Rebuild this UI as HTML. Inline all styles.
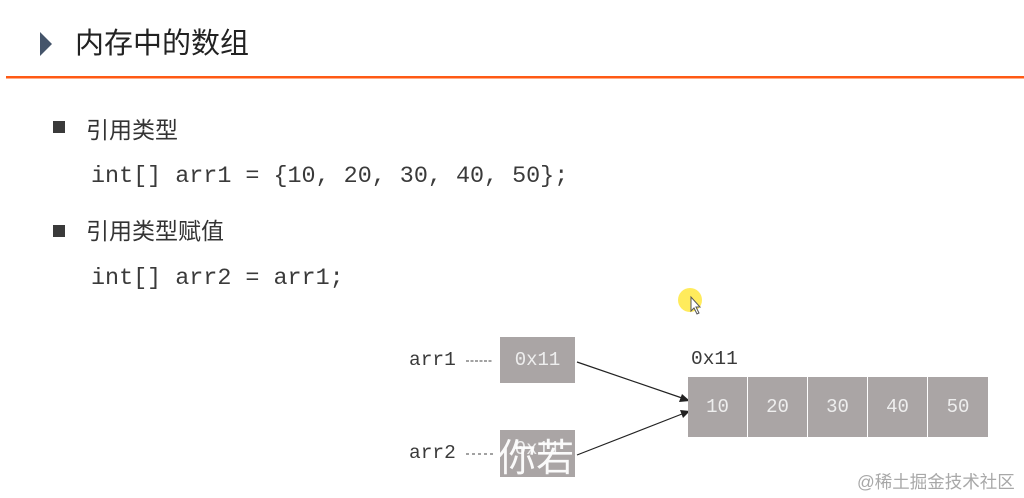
<!DOCTYPE html>
<html><head><meta charset="utf-8"><style>
body{margin:0;width:1024px;height:498px;background:#fff;position:relative;overflow:hidden;font-family:"Liberation Sans","Noto Sans CJK SC",sans-serif}
.a{position:absolute;white-space:nowrap}
.cn{font-family:"Liberation Sans","Noto Sans CJK SC",sans-serif;color:#333}
.mono{font-family:"Liberation Mono",monospace;color:#3a3a3a}
.box{position:absolute;background:#aaa5a5;color:#eee;font-family:"Liberation Mono",monospace;font-size:19px;display:flex;align-items:center;justify-content:center}
.sq{position:absolute;width:12px;height:12px;background:#3a3a3a}
</style></head><body>
<svg class="a" style="left:0;top:0" width="1024" height="498">
<polygon points="40,32 52,44 40,56" fill="#44546a"/>
<rect x="6" y="76" width="1018" height="2.5" fill="#ff5a14"/>
<circle cx="690" cy="300" r="12" fill="#ffe94a" opacity="0.9"/>
<polygon points="691,297 691,311 694,308 697,314 699,313 696,307 700,307" fill="#fff" stroke="#555" stroke-width="1"/>
<line x1="466" y1="361" x2="492" y2="361" stroke="#444" stroke-dasharray="3,1.5"/>
<line x1="466" y1="454" x2="495" y2="454" stroke="#444" stroke-dasharray="3,3"/>
<line x1="577" y1="362" x2="682" y2="398" stroke="#222" stroke-width="1.2"/>
<polygon points="690,401 679,402 682,394" fill="#222"/>
<line x1="577" y1="455" x2="682" y2="414" stroke="#222" stroke-width="1.2"/>
<polygon points="690,411 683,418 680,410" fill="#222"/>
</svg>
<div class="a cn" style="left:75px;top:25px;font-size:29px;line-height:38px;color:#222">内存中的数组</div>
<div class="sq" style="left:53px;top:121px"></div>
<div class="a cn" style="left:86px;top:115px;font-size:23px;line-height:30px">引用类型</div>
<div class="a mono" style="left:91px;top:163px;font-size:23.4px;line-height:28px">int[] arr1 = {10, 20, 30, 40, 50};</div>
<div class="sq" style="left:53px;top:225px"></div>
<div class="a cn" style="left:86px;top:216px;font-size:23px;line-height:30px">引用类型赋值</div>
<div class="a mono" style="left:91px;top:265px;font-size:23.4px;line-height:28px">int[] arr2 = arr1;</div>
<div class="a mono" style="left:409px;top:348px;font-size:19.5px;line-height:24px">arr1</div>
<div class="a mono" style="left:409px;top:441px;font-size:19.5px;line-height:24px">arr2</div>
<div class="box" style="left:500px;top:337px;width:75px;height:46px">0x11</div>
<div class="box" style="left:500px;top:430px;width:75px;height:47px;align-items:flex-start;padding-top:8px;box-sizing:border-box">0x11</div>
<div class="a mono" style="left:691px;top:347px;font-size:19.5px;line-height:24px">0x11</div>
<div class="box" style="left:688px;top:377px;width:59px;height:60px">10</div>
<div class="box" style="left:748px;top:377px;width:59px;height:60px">20</div>
<div class="box" style="left:808px;top:377px;width:59px;height:60px">30</div>
<div class="box" style="left:868px;top:377px;width:59px;height:60px">40</div>
<div class="box" style="left:928px;top:377px;width:60px;height:60px">50</div>
<div class="a" style="left:400px;top:462px;width:100px;height:16px;background:#fff;opacity:0.85"></div>
<div class="a cn" style="left:498px;top:436px;font-size:38px;line-height:46px;color:#fff;opacity:0.95">你若</div>
<div class="a" style="left:400px;top:478px;width:200px;height:20px;background:#fff"></div>
<div class="a cn" style="left:857px;top:471px;font-size:17.5px;line-height:22px;color:#a8a8a8">@稀土掘金技术社区</div>
</body></html>
